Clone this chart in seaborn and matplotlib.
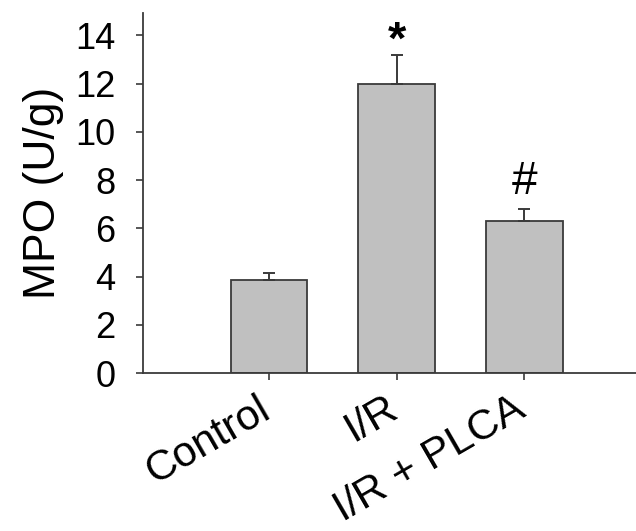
import matplotlib
matplotlib.use("Agg")
import matplotlib.pyplot as plt
import matplotlib.transforms as mtransforms
import seaborn as sns
import numpy as np
import pandas as pd

sns.set_style("ticks")
plt.rcParams['font.family'] = ['Liberation Sans', 'DejaVu Sans']
plt.rcParams['text.color'] = 'black'
plt.rcParams['axes.labelcolor'] = 'black'
plt.rcParams['xtick.labelcolor'] = 'black'
plt.rcParams['ytick.labelcolor'] = 'black'

# data
groups = ['Control', 'I/R', 'I/R + PLCA']
mpo = [3.85, 11.97, 6.31]
sem = [0.30, 1.20, 0.51]
marks = ['', '*', '#']

df = pd.DataFrame({'group': groups, 'mpo': mpo})

fig = plt.figure(figsize=(6.36, 5.31), dpi=100)
ax = fig.add_axes([0.2248, 0.297, 0.79, 0.679])

sns.barplot(data=df, x='group', y='mpo', color='#c0c0c0', width=0.6,
            edgecolor='#3a3a3a', linewidth=1.3, saturation=1, ax=ax)

x = np.arange(len(groups))
ax.errorbar(x, mpo, yerr=[np.zeros(len(sem)), sem], fmt='none',
            ecolor='#3a3a3a', elinewidth=1.4, capsize=4.5, capthick=1.4)

for xi, m, s, mk in zip(x, mpo, sem, marks):
    if mk == '*':
        ax.text(xi, m + s + 0.55, mk, ha='center', va='center', fontsize=34, fontweight='bold')
    elif mk == '#':
        ax.text(xi, m + s + 1.1, mk, ha='center', va='center', fontsize=33)

ax.set_xlim(-0.99, 2.95)
ax.set_ylim(0, 14.93)
ax.set_yticks(range(0, 15, 2))
ax.tick_params(axis='y', labelsize=26, length=5, width=1.2, color='#3a3a3a', pad=15)
ax.tick_params(axis='x', labelsize=30.5, length=5, width=1.2, color='#3a3a3a', pad=6)
shift = mtransforms.ScaledTranslation(8 / 100, 0, fig.dpi_scale_trans)
for lab in ax.get_xticklabels():
    lab.set_rotation(30)
    lab.set_ha('right')
    lab.set_va('top')
    lab.set_transform(lab.get_transform() + shift)
ax.set_xlabel('')
ax.set_ylabel('MPO (U/g)', fontsize=32, labelpad=8)

for side in ['top', 'right']:
    ax.spines[side].set_visible(False)
for side in ['left', 'bottom']:
    ax.spines[side].set_color('#3a3a3a')
    ax.spines[side].set_linewidth(1.3)

fig.savefig('out.png', dpi=100)
